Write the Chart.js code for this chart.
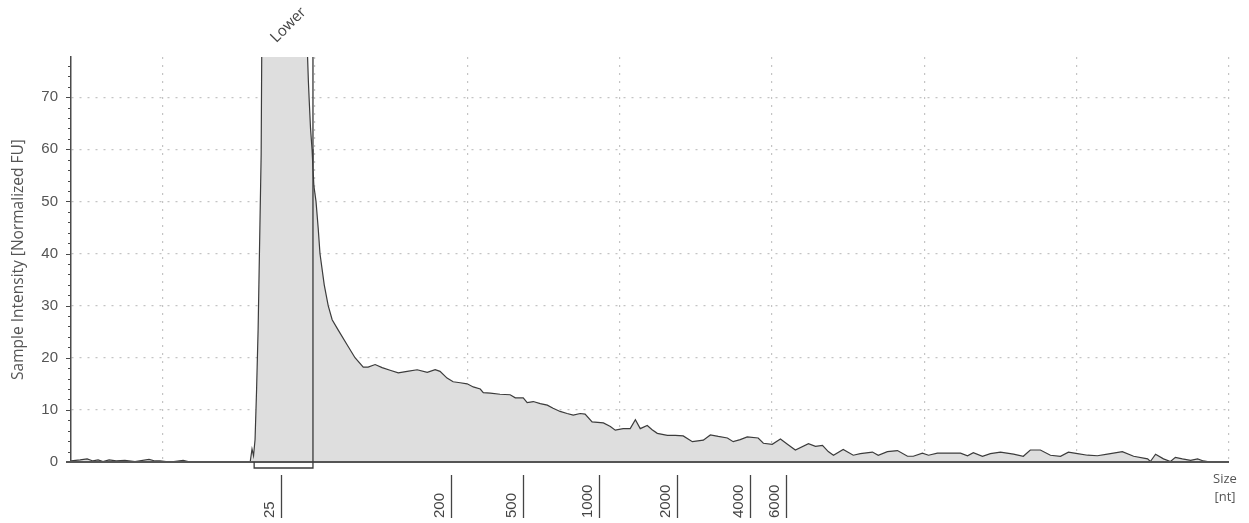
<!DOCTYPE html>
<html>
<head>
<meta charset="utf-8">
<script src="https://cdn.jsdelivr.net/npm/chart.js@4"></script>
<style>
  html, body { margin: 0; padding: 0; background: #ffffff; }
  #wrap { width: 1249px; height: 523px; position: relative; }
</style>
</head>
<body>
<div id="wrap"><canvas id="c" width="1249" height="523"></canvas></div>
<script>
// Migration time (s) of each sample point
const times = [
  17.00, 17.30, 17.53, 17.72, 17.89, 18.05, 18.25, 18.48, 18.77, 19.10,
  19.56, 19.76, 19.92, 20.25, 20.68, 20.91, 22.88, 22.94, 22.99, 23.04,
  23.09, 23.14, 23.24, 23.30, 23.53, 24.52, 24.75, 24.79, 24.82, 24.86,
  24.91, 24.94, 24.97, 25.04, 25.11, 25.17, 25.31, 25.44, 25.57, 25.77,
  26.06, 26.32, 26.59, 26.75, 26.98, 27.21, 27.47, 27.74, 28.03, 28.36,
  28.69, 28.95, 29.11, 29.34, 29.54, 29.77, 30.00, 30.20, 30.43, 30.53,
  30.76, 31.08, 31.41, 31.58, 31.84, 31.97, 32.17, 32.40, 32.63, 32.82,
  33.05, 33.28, 33.48, 33.71, 33.87, 34.10, 34.47, 34.70, 34.86, 35.12,
  35.35, 35.52, 35.68, 35.91, 36.07, 36.24, 36.57, 36.83, 37.09, 37.39,
  37.75, 37.98, 38.24, 38.54, 38.73, 38.96, 39.19, 39.55, 39.72, 40.01,
  40.28, 40.51, 40.77, 41.20, 41.43, 41.66, 41.85, 42.02, 42.34, 42.67,
  42.90, 43.30, 43.49, 43.79, 44.12, 44.45, 44.64, 44.94, 45.14, 45.43,
  45.86, 46.19, 46.42, 46.61, 46.91, 47.17, 47.50, 47.93, 48.25, 48.48,
  48.81, 49.14, 49.47, 49.73, 50.03, 50.36, 50.68, 51.01, 51.50, 51.87,
  52.33, 52.42, 52.59, 52.85, 53.08, 53.24, 53.47, 53.74, 53.97, 54.16,
  54.39, 55.00
];
// Sample intensity [Normalized FU]
const intensity = [
  0.2, 0.4, 0.6, 0.2, 0.4, 0.1, 0.4, 0.2, 0.3, 0.1,
  0.5, 0.2, 0.2, 0.0, 0.3, 0.0, 0.0, 2.5, 1.2, 4.3,
  13.9, 25.4, 59.0, 120, 120, 120, 80, 73, 69, 64,
  60, 56.4, 53, 50, 45, 40, 34, 30, 27.3, 25.3,
  22.5, 20.0, 18.2, 18.2, 18.7, 18.1, 17.6, 17.1, 17.4, 17.7,
  17.2, 17.7, 17.4, 16.1, 15.4, 15.2, 15.0, 14.4, 14.0, 13.3,
  13.2, 13.0, 12.9, 12.3, 12.3, 11.4, 11.6, 11.2, 10.9, 10.3,
  9.7, 9.3, 9.0, 9.3, 9.2, 7.7, 7.5, 6.8, 6.1, 6.4,
  6.4, 8.1, 6.4, 7.0, 6.2, 5.5, 5.1, 5.1, 5.0, 3.9,
  4.2, 5.2, 4.9, 4.6, 3.9, 4.3, 4.8, 4.6, 3.6, 3.4,
  4.4, 3.4, 2.3, 3.5, 3.0, 3.2, 2.0, 1.3, 2.4, 1.3,
  1.6, 1.9, 1.3, 2.0, 2.2, 1.1, 1.1, 1.7, 1.3, 1.7,
  1.7, 1.7, 1.2, 1.8, 1.1, 1.6, 1.9, 1.5, 1.1, 2.3,
  2.3, 1.3, 1.1, 1.9, 1.6, 1.3, 1.2, 1.5, 2.0, 1.1,
  0.6, 0.1, 1.5, 0.6, 0.1, 0.9, 0.6, 0.3, 0.6, 0.2,
  0.0, 0.0
];
// Size ladder (nt) and its migration times (s)
const ladderLabels = ['25', '200', '500', '1000', '2000', '4000', '6000'];
const ladderTimes = [23.89, 29.48, 31.84, 34.33, 36.89, 39.29, 40.47];
// Lower marker
const lowerLabel = 'Lower';
const lowerRange = [23.01, 24.94];
// Axis ticks
const xGridTicks = [20, 25, 30, 35, 40, 45, 50, 55];
const yTicks = [0, 10, 20, 30, 40, 50, 60, 70];
const yMinorStep = 2;
const xRange = [17, 55];
const yRange = [0, 77.7];

const AXIS = '#4a4a4a';
const TEXT = '#555555';
const GRID = '#c4c4c4';

const overlay = {
  id: 'overlay',
  afterDatasetsDraw(chart) {
    const ctx = chart.ctx;
    const xs = chart.scales.x, ys = chart.scales.y;
    const a = chart.chartArea;
    ctx.save();
    // y-axis tick marks (major + minor)
    ctx.strokeStyle = AXIS;
    ctx.lineWidth = 1;
    for (let v = yRange[0]; v <= yRange[1]; v += yMinorStep) {
      const y = Math.round(ys.getPixelForValue(v)) + 0.5;
      const len = (v % 10 === 0) ? 5 : 3;
      ctx.beginPath();
      ctx.moveTo(a.left - len, y);
      ctx.lineTo(a.left, y);
      ctx.stroke();
    }
    // x axis baseline
    ctx.strokeStyle = '#555555';
    ctx.lineWidth = 2;
    ctx.beginPath();
    ctx.moveTo(a.left - 5, a.bottom);
    ctx.lineTo(a.right, a.bottom);
    ctx.stroke();

    // Lower marker box
    const x1 = xs.getPixelForValue(lowerRange[0]);
    const x2 = xs.getPixelForValue(lowerRange[1]);
    const bot = a.bottom + 6;
    ctx.strokeStyle = '#3a3a3a';
    ctx.lineWidth = 1.3;
    ctx.beginPath();
    ctx.moveTo(x1, a.bottom);
    ctx.lineTo(x1, bot);
    ctx.lineTo(x2, bot);
    ctx.lineTo(x2, a.top);
    ctx.stroke();
    // Lower label
    ctx.save();
    ctx.translate((x1 + x2) / 2 + 5, a.top - 32);
    ctx.rotate(-Math.PI / 4);
    ctx.fillStyle = '#444444';
    ctx.font = '15px "Open Sans", sans-serif';
    ctx.textAlign = 'center';
    ctx.textBaseline = 'middle';
    ctx.fillText(lowerLabel, 0, 0);
    ctx.restore();

    // Ladder ticks
    ctx.font = '15px "Liberation Sans", Arial, sans-serif';
    ctx.fillStyle = '#444444';
    ladderTimes.forEach((t, i) => {
      const px = Math.round(xs.getPixelForValue(t)) + 0.5;
      ctx.strokeStyle = '#444444';
      ctx.lineWidth = 1.3;
      ctx.beginPath();
      ctx.moveTo(px, a.bottom + 13);
      ctx.lineTo(px, a.bottom + 56);
      ctx.stroke();
      ctx.save();
      ctx.translate(px - 12, a.bottom + 56);
      ctx.rotate(-Math.PI / 2);
      ctx.textAlign = 'left';
      ctx.textBaseline = 'middle';
      ctx.fillText(ladderLabels[i], 0, 0);
      ctx.restore();
    });

    // Size [nt]
    ctx.font = '13px "Open Sans", sans-serif';
    ctx.fillStyle = TEXT;
    ctx.textAlign = 'center';
    ctx.textBaseline = 'middle';
    ctx.fillText('Size', a.right - 4, a.bottom + 17);
    ctx.fillText('[nt]', a.right - 4, a.bottom + 35);
    ctx.restore();
  }
};

new Chart(document.getElementById('c'), {
  type: 'line',
  data: {
    datasets: [{
      data: times.map((t, i) => ({ x: t, y: intensity[i] })),
      borderColor: '#3c3c3c',
      borderWidth: 1.2,
      backgroundColor: '#dedede',
      fill: 'origin',
      pointRadius: 0,
      tension: 0
    }]
  },
  options: {
    responsive: false,
    animation: false,
    events: [],
    layout: { padding: { top: 57, right: 20, bottom: 61, left: 0 } },
    plugins: { legend: { display: false }, tooltip: { enabled: false } },
    scales: {
      x: {
        type: 'linear',
        min: xRange[0],
        max: xRange[1],
        afterBuildTicks: (s) => { s.ticks = xGridTicks.map(v => ({ value: v })); },
        afterFit: (s) => { s.height = 0; },
        ticks: { display: false },
        border: { display: false, dash: [2, 6] },
        grid: { color: GRID, lineWidth: 1.2, drawTicks: false }
      },
      y: {
        min: yRange[0],
        max: yRange[1],
        afterBuildTicks: (s) => { s.ticks = yTicks.map(v => ({ value: v })); },
        afterFit: (s) => { s.width = 71; },
        ticks: {
          color: TEXT,
          font: { family: '"Liberation Sans", Arial, sans-serif', size: 15 },
          padding: 13
        },
        border: { display: true, color: AXIS, width: 1.5, dash: [2, 6] },
        grid: { color: GRID, lineWidth: 1.2, drawTicks: false },
        title: {
          display: true,
          text: 'Sample Intensity [Normalized FU]',
          color: TEXT,
          font: { family: '"Open Sans", sans-serif', size: 15.5 },
          padding: { top: 9, bottom: 0 }
        }
      }
    }
  },
  plugins: [overlay]
});
</script>
</body>
</html>
